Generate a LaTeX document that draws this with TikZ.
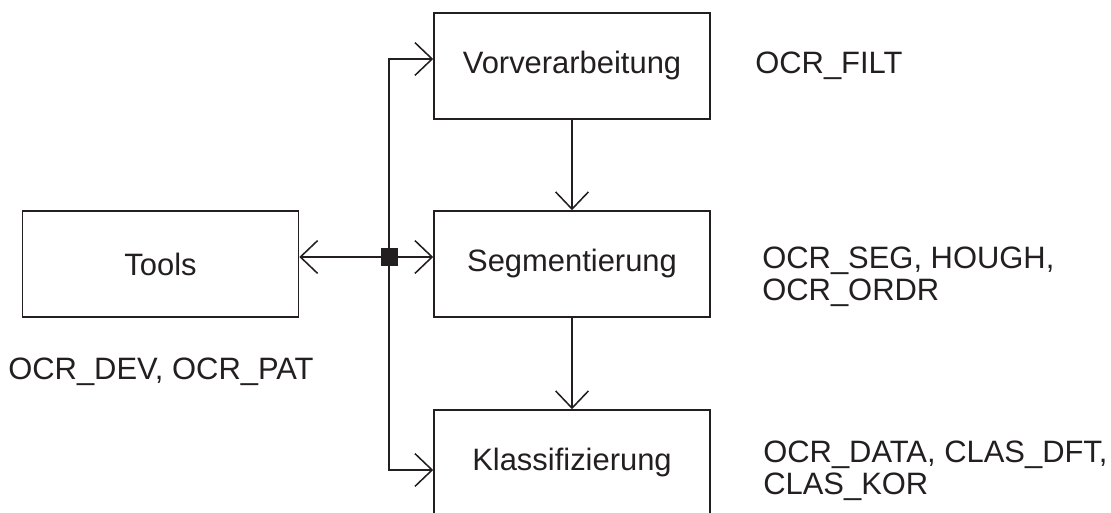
\documentclass[tikz,border=0pt]{standalone}
\usepackage{fontspec}
\setmainfont{Liberation Sans}
\usepackage{tikz}
\usetikzlibrary{arrows.meta,calc}
\definecolor{ink}{RGB}{35,31,32}
\tikzset{
  box/.style     = {draw=ink, line width=1.1pt, minimum width=6.9cm, minimum height=2.65cm, inner sep=0pt},
  flow/.style    = {draw=ink, line width=1.1pt, -{Straight Barb[length=4.3mm,width=8.2mm,line width=1.1pt]}},
  junction/.style= {fill=ink, minimum size=0.425cm, inner sep=0pt},
  modlabel/.style= {anchor=north west, align=left, inner sep=0pt, text=ink}
}

\begin{document}
\begin{tikzpicture}[font=\fontsize{22}{22.6}\selectfont, text=ink]
  \useasboundingbox (0,0) rectangle (27.775,-12.825);
  \node[box] (tools) at (4.0125,-6.6)   {Tools};
  \node[box] (vorv)  at (14.3,-1.65)    {Vorverarbeitung};
  \node[box] (segm)  at (14.3,-6.6)     {Segmentierung};
  \node[box] (klass) at (14.3,-11.575)  {Klassifizierung};

  \coordinate (jn)      at (9.725,-6.425);
  \coordinate (topbend) at (9.725,-1.475);
  \coordinate (botbend) at (9.725,-11.75);
  \draw[flow] (jn) -- (jn -| tools.east);
  \draw[flow] (jn) -- (jn -| segm.west);
  \draw[flow] (jn) -- (topbend) -- (topbend -| vorv.west);
  \draw[flow] (jn) -- (botbend) -- (botbend -| klass.west);
  \node[junction] (jnbox) at (jn) {};

  \draw[flow] (vorv.south) -- (segm.north);
  \draw[flow] (segm.south) -- (klass.north);

  \node[modlabel] (vorvl)  at (18.875,-1.3)   {OCR\_FILT};
  \node[modlabel] (segml)  at (19.05,-6.175)  {OCR\_SEG, HOUGH,\\OCR\_ORDR};
  \node[modlabel] (klassl) at (19.075,-11.025){OCR\_DATA, CLAS\_DFT,\\CLAS\_KOR};
  \node[modlabel] (toolsl) at (0.2,-8.95)     {OCR\_DEV, OCR\_PAT};
\end{tikzpicture}
\end{document}
